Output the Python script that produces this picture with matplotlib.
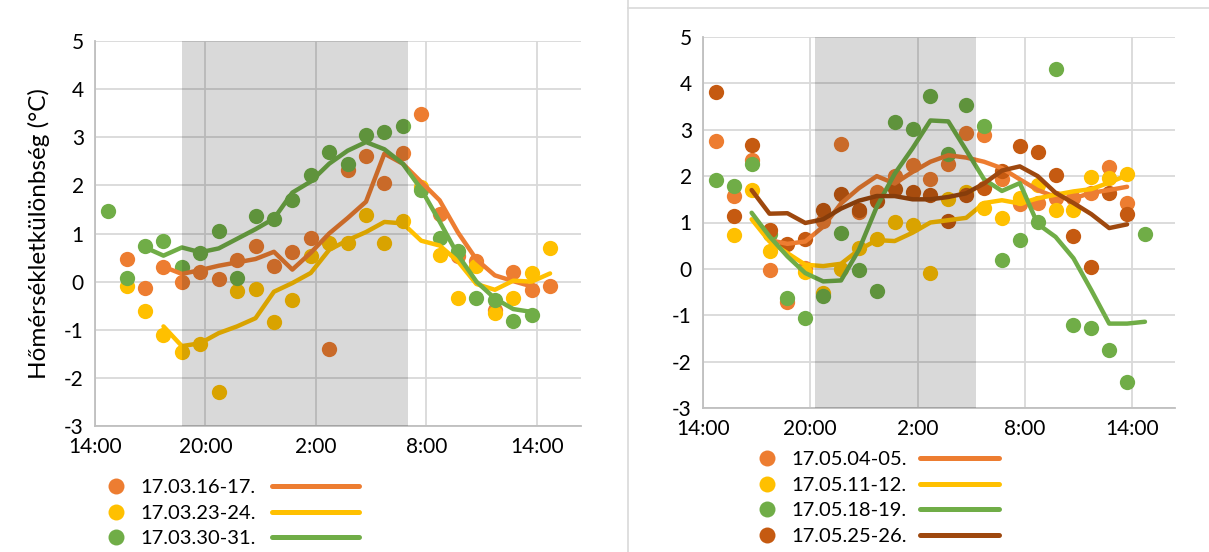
import numpy as np
import matplotlib
matplotlib.use("Agg")
import matplotlib.pyplot as plt
from matplotlib.lines import Line2D

plt.rcParams['font.family'] = ['Lato', 'DejaVu Sans']
plt.rcParams['axes.unicode_minus'] = False

nan = np.nan
# hours counted from 14:00 of day 1 (26 = 2:00, 38 = 14:00 next day)
hours = 14.72 + np.arange(25)
tick_pos = [14, 20, 26, 32, 38]
tick_lab = ['14:00', '20:00', '2:00', '8:00', '14:00']

# ---- left panel (March) ----
mar_labels = ['17.03.16-17.', '17.03.23-24.', '17.03.30-31.']
mar16_dots = [nan, 0.46, -0.14, 0.31, -0.01, 0.21, 0.06, 0.44, 0.75, 0.33, 0.62, 0.91, -1.39,
              2.32, 2.62, 2.04, 2.67, 3.48, 1.41, 0.54, 0.42, -0.58, 0.21, -0.17, -0.09]
mar23_dots = [nan, -0.09, -0.62, -1.10, -1.47, -1.29, -2.29, -0.20, -0.16, -0.84, -0.38, 0.54, 0.80,
              0.80, 1.39, 0.81, 1.25, 1.97, 0.56, -0.34, 0.33, -0.65, -0.35, 0.17, 0.70]
mar30_dots = [1.47, 0.07, 0.73, 0.84, 0.30, 0.60, 1.05, 0.08, 1.37, 1.30, 1.70, 2.22, 2.69,
              2.44, 3.05, 3.10, 3.24, 1.91, 0.91, 0.63, -0.35, -0.38, -0.82, -0.70, nan]
mar16_line = [nan, nan, nan, 0.31, 0.16, 0.24, 0.33, 0.40, 0.47, 0.62, 0.25, 0.60, 1.00,
              1.32, 1.66, 2.66, 2.45, 2.07, 1.69, 1.02, 0.46, 0.13, 0.01, -0.10, nan]
mar23_line = [nan, nan, nan, -0.93, -1.34, -1.28, -1.07, -0.93, -0.76, -0.21, -0.03, 0.18, 0.66,
              0.86, 1.03, 1.24, 1.21, 0.85, 0.75, 0.42, -0.05, -0.17, 0.02, 0.00, 0.17]
mar30_line = [nan, nan, 0.71, 0.54, 0.71, 0.61, 0.69, 0.89, 1.09, 1.31, 1.85, 2.08, 2.45,
              2.72, 2.90, 2.75, 2.45, 1.92, 1.25, 0.55, 0.00, -0.35, -0.57, -0.63, nan]
mar_night = (18.7, 31.0)

# ---- right panel (May) ----
may_labels = ['17.05.04-05.', '17.05.11-12.', '17.05.18-19.', '17.05.25-26.']
may04_dots = [2.76, 1.57, 2.35, -0.02, -0.72, 0.01, 1.04, 2.70, 1.23, 1.66, 2.01, 2.25, 1.93,
              2.27, 2.92, 2.88, 1.94, 1.39, 1.43, 1.52, 1.52, 1.64, 2.20, 1.43, nan]
may11_dots = [nan, 0.74, 1.70, 0.39, nan, -0.07, -0.52, 0.00, 0.44, 0.65, 1.02, 0.95, -0.09,
              1.51, 1.65, 1.31, 1.09, 1.52, 1.80, 1.27, 1.27, 1.99, 1.96, 2.04, nan]
may18_dots = [1.92, 1.79, 2.26, 0.75, -0.63, -1.06, -0.58, 0.77, -0.02, -0.47, 3.17, 3.01, 3.72,
              2.47, 3.53, 3.08, 0.19, 0.62, 1.02, 4.31, -1.22, -1.27, -1.76, -2.43, 0.76]
may25_dots = [3.82, 1.15, 2.68, 0.84, 0.54, 0.64, 1.27, 1.61, 1.27, 1.47, 1.73, 1.66, 1.59,
              1.04, 1.60, 1.74, 2.12, 2.65, 2.51, 2.02, 0.71, 0.04, 1.63, 1.19, nan]
may04_line = [nan, nan, nan, 0.62, 0.54, 0.59, 0.91, 1.41, 1.74, 2.00, 1.84, 2.09, 2.31,
              2.45, 2.40, 2.31, 2.17, 1.93, 1.70, 1.55, 1.52, 1.64, 1.70, 1.77, nan]
may11_line = [nan, nan, 1.07, 0.59, 0.34, 0.09, 0.06, 0.11, 0.41, 0.62, 0.60, 0.78, 1.00,
              1.05, 1.10, 1.42, 1.48, 1.41, 1.52, 1.60, 1.67, 1.72, 1.86, 2.02, nan]
may18_line = [nan, nan, 1.21, 0.70, 0.27, -0.09, -0.27, -0.25, 0.41, 1.34, 2.05, 2.60, 3.20,
              3.18, 2.56, 1.93, 1.68, 1.85, 0.97, 0.69, 0.23, -0.46, -1.18, -1.18, -1.14]
may25_line = [nan, nan, 1.70, 1.19, 1.20, 0.99, 1.07, 1.30, 1.47, 1.57, 1.57, 1.50, 1.50,
              1.55, 1.63, 1.84, 2.12, 2.21, 2.00, 1.64, 1.42, 1.18, 0.88, 0.96, nan]
may_night = (20.28, 29.27)

orange, yellow, green = '#ED7D31', '#FFC000', '#70AD47'
dark_dot, dark_line = '#C55A11', '#9E480E'

W, H = 1209, 552
fig = plt.figure(figsize=(W / 100, H / 100), dpi=100)


def px(x0, y0, x1, y1):
    return [x0 / W, 1 - y1 / H, (x1 - x0) / W, (y1 - y0) / H]


def panel(rect, dots, lines, dot_cols, line_cols, night):
    ax = fig.add_axes(rect)
    for d, c in zip(dots, dot_cols):
        ax.plot(hours, d, 'o', ms=11, color=c, mec='none', zorder=3)
    for l, c in zip(lines, line_cols):
        ax.plot(hours, l, '-', lw=3.2, color=c, solid_capstyle='round', zorder=4)
    ax.axvspan(night[0], night[1], color='black', alpha=0.15, lw=0, zorder=5)
    ax.set_xlim(14, 40.4)
    ax.set_ylim(-3, 5)
    ax.set_xticks(tick_pos)
    ax.set_xticklabels(tick_lab)
    ax.set_yticks(range(-3, 6))
    ax.grid(True, color='#D9D9D9', lw=1.3)
    ax.set_axisbelow(True)
    for s in ['top', 'right']:
        ax.spines[s].set_visible(False)
    for s in ['left', 'bottom']:
        ax.spines[s].set_color('#BFBFBF')
        ax.spines[s].set_linewidth(1.3)
    ax.tick_params(length=0, labelsize=15, pad=8)
    return ax


ax1 = panel(px(95, 41, 581, 426), [mar16_dots, mar23_dots, mar30_dots],
            [mar16_line, mar23_line, mar30_line],
            [orange, yellow, green], [orange, yellow, green], mar_night)
ax1.set_ylabel('Hőmérsékletkülönbség (°C)', fontsize=17.5, labelpad=10)

ax2 = panel(px(703, 37, 1175, 408), [may04_dots, may11_dots, may18_dots, may25_dots],
            [may04_line, may11_line, may18_line, may25_line],
            [orange, yellow, green, dark_dot], [orange, yellow, green, dark_line], may_night)


def legends(labels, dot_cols, line_cols, x_dot, x_line, y_top, hl):
    dh = [Line2D([], [], marker='o', ls='', ms=11.5, color=c, mec='none') for c in dot_cols]
    lh = [Line2D([], [], lw=3.6, color=c, solid_capstyle='round') for c in line_cols]
    l1 = fig.legend(dh, labels, loc='upper left', bbox_to_anchor=(x_dot / W, 1 - y_top / H),
                    frameon=False, fontsize=14.5, handlelength=0.8, handletextpad=0.8,
                    borderpad=0, borderaxespad=0, labelspacing=0.42)
    l2 = fig.legend(lh, [''] * len(lh), loc='upper left', bbox_to_anchor=(x_line / W, 1 - y_top / H),
                    frameon=False, fontsize=14.5, handlelength=hl, handletextpad=0,
                    borderpad=0, borderaxespad=0, labelspacing=0.42)
    return l1, l2


legends(mar_labels, [orange, yellow, green], [orange, yellow, green], 108, 272, 479, 4.3)
legends(may_labels, [orange, yellow, green, dark_dot], [orange, yellow, green, dark_line],
        759, 920, 451, 3.9)

# chart area borders
fig.add_artist(Line2D([628 / W, 628 / W], [0, 1], color='#D9D9D9', lw=1.2))
fig.add_artist(Line2D([628 / W, 1], [1 - 8 / H, 1 - 8 / H], color='#D9D9D9', lw=1.2))

fig.savefig('out.png', dpi=100)
